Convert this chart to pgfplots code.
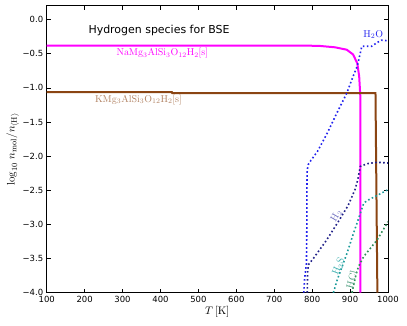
\documentclass[border=0pt]{standalone}
\usepackage[no-math]{fontspec}
\usepackage{pgfplots}
\pgfplotsset{compat=1.18}
\newfontfamily\dejavu{DejaVu Sans}

\definecolor{namg}{HTML}{FF00FF}
\definecolor{kmg}{HTML}{8B4513}
\definecolor{kmglab}{HTML}{B08060}
\definecolor{htwoo}{HTML}{2222EE}
\definecolor{htwo}{HTML}{202088}
\definecolor{htwolab}{HTML}{7070C0}
\definecolor{htwos}{HTML}{1A9A9A}
\definecolor{htwoslab}{HTML}{40B0B0}
\definecolor{hcl}{HTML}{2E8B57}
\definecolor{hcllab}{HTML}{50A080}

\begin{document}
\begin{tikzpicture}
\begin{axis}[
    scale only axis,
    width=341.3bp, height=286.7bp,
    xmin=100, xmax=1000, ymin=-4, ymax=0.2,
    xtick={100,200,...,1000},
    ytick={-4,-3.5,-3,-2.5,-2,-1.5,-1,-0.5,0},
    xticklabels={100,200,300,400,500,600,700,800,900,1000},
    yticklabels={−4.0,−3.5,−3.0,−2.5,−2.0,−1.5,−1.0,−0.5,0.0},
    tick label style={font=\dejavu\fontsize{8.5}{10}\selectfont},
    tick align=inside,
    major tick length=4bp,
    tick style={black, line width=0.8bp},
    axis line style={line width=1bp},
    xlabel={$T\,[\mathrm{K}]$},
    ylabel={$\log_{10}\, n_{\mathrm{mol}}/n_{\langle\mathrm{H}\rangle}$},
    label style={font=\fontsize{11}{13}\selectfont},
    xlabel style={at={(axis description cs:0.5,-0.066)}, anchor=center},
    ylabel style={at={(axis description cs:-0.1,0.5)}, anchor=center},
    clip=true,
]
% NaMg3AlSi3O12H2[s]
\addplot[namg, line width=2bp] coordinates {
(100,-0.38) (780,-0.38) (820,-0.385) (860,-0.405) (891,-0.44) (908,-0.51)
(919,-0.64) (924,-0.83) (927,-1.12) (927,-4.0)};
% KMg3AlSi3O12H2[s]
\addplot[kmg, line width=2bp] coordinates {
(100,-1.062) (430,-1.062) (431,-1.075) (967,-1.075) (972,-4.0)};
% H2O
\addplot[htwoo, line width=1.6bp, dash pattern=on 1.6bp off 2.4bp] coordinates {
(778,-4.0) (780,-3.8) (785,-3.57) (786,-3.0) (786,-2.5) (787,-2.2) (790,-2.12)
(797,-2.06) (805,-2.0) (814,-1.93) (840,-1.66) (865,-1.37) (891,-1.08)
(908,-0.83) (919,-0.68) (924,-0.56) (931,-0.39) (957,-0.39) (970,-0.34)
(983,-0.30) (1000,-0.31)};
% H2
\addplot[htwo, line width=1.6bp, dash pattern=on 1.6bp off 2.4bp] coordinates {
(787,-4.0) (788,-3.7) (790,-3.59) (803,-3.50) (838,-3.23) (870,-2.95)
(895,-2.72) (913,-2.49) (920,-2.35) (927,-2.15) (945,-2.11) (971,-2.09)
(1000,-2.10)};
% H2S
\addplot[htwos, line width=1.6bp, dash pattern=on 1.6bp off 2.4bp] coordinates {
(856,-4.0) (865,-3.83) (892,-3.42) (909,-3.13) (927,-2.84) (936,-2.69)
(945,-2.65) (970,-2.58) (1000,-2.49)};
% HCl
\addplot[hcl, line width=1.6bp, dash pattern=on 1.6bp off 2.4bp] coordinates {
(905,-4.0) (915,-3.75) (922,-3.62) (936,-3.47) (971,-3.23) (1000,-2.96)};

\node[anchor=west, font=\dejavu\fontsize{11}{13}\selectfont] at (axis cs:201,-0.157) {Hydrogen species for BSE};
\node[text=namg, font=\fontsize{10}{12}\selectfont] at (axis cs:405,-0.49) {$\mathrm{NaMg_3AlSi_3O_{12}H_2[s]}$};
\node[text=kmglab, font=\fontsize{10}{12}\selectfont] at (axis cs:342,-1.17) {$\mathrm{KMg_3AlSi_3O_{12}H_2[s]}$};
\node[text=htwoo, font=\fontsize{10}{12}\selectfont] at (axis cs:961,-0.22) {$\mathrm{H_2O}$};
\node[text=htwolab, rotate=60, font=\fontsize{10}{12}\selectfont] at (axis cs:864,-2.87) {$\mathrm{H_2}$};
\node[text=htwoslab, rotate=68, font=\fontsize{10}{12}\selectfont] at (axis cs:870,-3.62) {$\mathrm{H_2S}$};
\node[text=hcllab, rotate=75, font=\fontsize{10}{12}\selectfont] at (axis cs:904,-3.81) {$\mathrm{HCl}$};
\end{axis}
\path ([xshift=-46.7bp,yshift=-33.3bp]current axis.south west) rectangle ([xshift=19bp,yshift=6bp]current axis.north east);
\end{tikzpicture}
\end{document}
